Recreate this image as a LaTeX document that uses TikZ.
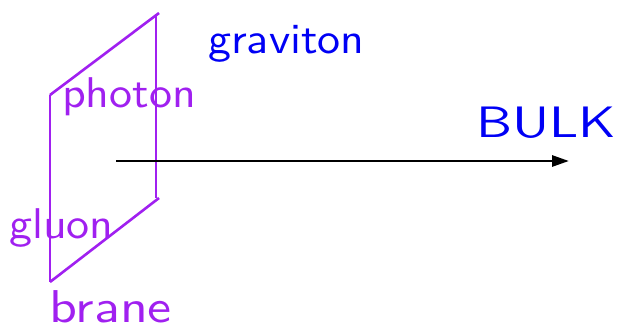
\documentclass[tikz,border=0pt]{standalone}
\usetikzlibrary{arrows.meta}
\usepackage{graphicx}
\definecolor{branepurple}{RGB}{160,32,240}
\definecolor{bulkblue}{RGB}{0,0,245}
\begin{document}
\begin{tikzpicture}[x=1pt,y=-1pt,
  braneline/.style={draw=branepurple,line width=2.6pt},
  lbl/.style={inner sep=0pt,anchor=base west,font=\sffamily\fontsize{10}{12}\selectfont},
  purplelbl/.style={lbl,text=branepurple},
  bluelbl/.style={lbl,text=bulkblue}]
\useasboundingbox (0,0) rectangle (617,327);
\coordinate (tl) at (50,95);
\coordinate (bl) at (50,282);
\coordinate (tr) at (159,13);
\coordinate (br) at (159,198);
\coordinate (trv) at (156,14);
\coordinate (brv) at (156,198);
\coordinate (as) at (116,161);
\coordinate (ae) at (569,161);
\draw[braneline] (tl) -- (tr);
\draw[braneline] (trv) -- (brv);
\draw[braneline] (bl) -- (br);
\draw[braneline] (tl) -- (bl);
\draw[line width=2.8pt,-{Triangle[length=17pt,width=11pt]}] (as) -- (ae);
\node[bluelbl] (grav) at (208,53) {\scalebox{4.6}[4.3]{graviton}};
\node[bluelbl] (bulk) at (476,137.5) {\scalebox{5.4}[4.4]{BULK}};
\node[purplelbl] (phot) at (62,107) {\scalebox{4.6}[4.3]{photon}};
\node[purplelbl] (glu) at (9,238) {\scalebox{4.6}[4.3]{gluon}};
\node[purplelbl] (bran) at (49,322.5) {\scalebox{5.4}[4.6]{brane}};
\end{tikzpicture}
\end{document}
